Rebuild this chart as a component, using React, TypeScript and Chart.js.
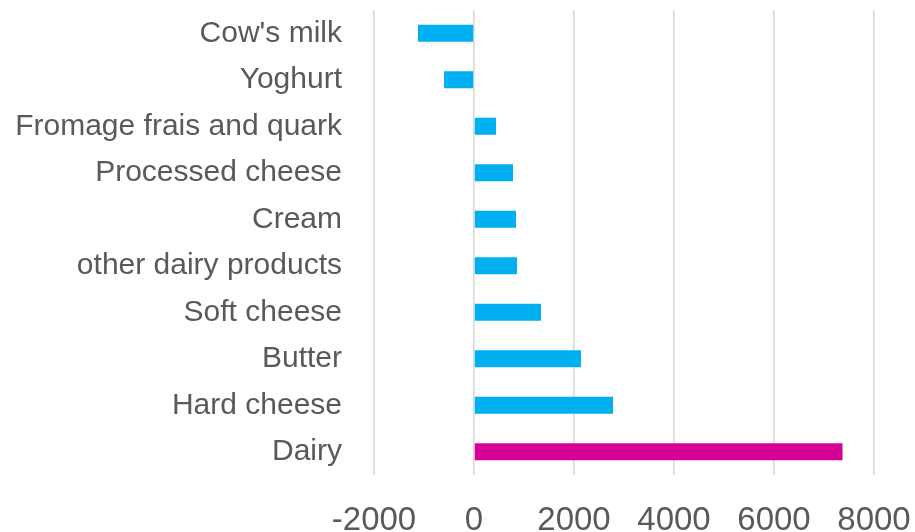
import React, { useEffect, useRef } from "react";
import { Chart, registerables } from "chart.js";

Chart.register(...registerables);

const categories = [
  "Cow's milk",
  "Yoghurt",
  "Fromage frais and quark",
  "Processed cheese",
  "Cream",
  "other dairy products",
  "Soft cheese",
  "Butter",
  "Hard cheese",
  "Dairy",
];

const values = [-1120, -600, 440, 780, 840, 860, 1340, 2140, 2780, 7370];

const barColors = [
  "#00B0F0",
  "#00B0F0",
  "#00B0F0",
  "#00B0F0",
  "#00B0F0",
  "#00B0F0",
  "#00B0F0",
  "#00B0F0",
  "#00B0F0",
  "#D60093",
];

const xMin = -2000;
const xMax = 8000;
const xStep = 2000;

export default function App() {
  const canvasRef = useRef<HTMLCanvasElement | null>(null);

  useEffect(() => {
    document.body.style.margin = "0";
    const canvas = canvasRef.current;
    if (!canvas) return;
    const font = { family: "'Liberation Sans', Arial, sans-serif", size: 30 };
    const xFont = { family: "'Liberation Sans', Arial, sans-serif", size: 33 };
    const chart = new Chart(canvas, {
      type: "bar",
      data: {
        labels: categories,
        datasets: [
          {
            data: values,
            backgroundColor: barColors,
            borderWidth: 0,
            categoryPercentage: 1,
            barPercentage: 0.366,
          },
        ],
      },
      options: {
        indexAxis: "y",
        animation: false,
        responsive: true,
        maintainAspectRatio: false,
        layout: { padding: { top: 10, right: 41, left: 0, bottom: 0 } },
        plugins: {
          legend: { display: false },
          tooltip: { enabled: false },
        },
        scales: {
          x: {
            min: xMin,
            max: xMax,
            ticks: {
              stepSize: xStep,
              color: "#595959",
              font: xFont,
              padding: 26,
              maxRotation: 0,
              autoSkip: false,
              callback: (v: any) => String(v),
            },
            grid: {
              color: "#d9d9d9",
              lineWidth: 1.6,
              drawTicks: false,
            },
            border: { display: false },
            afterFit: (scale: any) => {
              scale.height = 57;
              scale.paddingLeft = 0;
              scale.paddingRight = 0;
            },
          },
          y: {
            ticks: {
              color: "#595959",
              font,
              padding: 32,
              autoSkip: false,
            },
            grid: { display: false, drawTicks: false },
            border: { display: false },
            afterFit: (scale: any) => {
              scale.width = 374;
              scale.paddingTop = 0;
              scale.paddingBottom = 0;
            },
          },
        },
      },
    });
    return () => chart.destroy();
  }, []);

  return (
    <div style={{ position: "fixed", left: 0, top: 0, width: 915, height: 532, background: "#fff" }}>
      <canvas ref={canvasRef} />
    </div>
  );
}
